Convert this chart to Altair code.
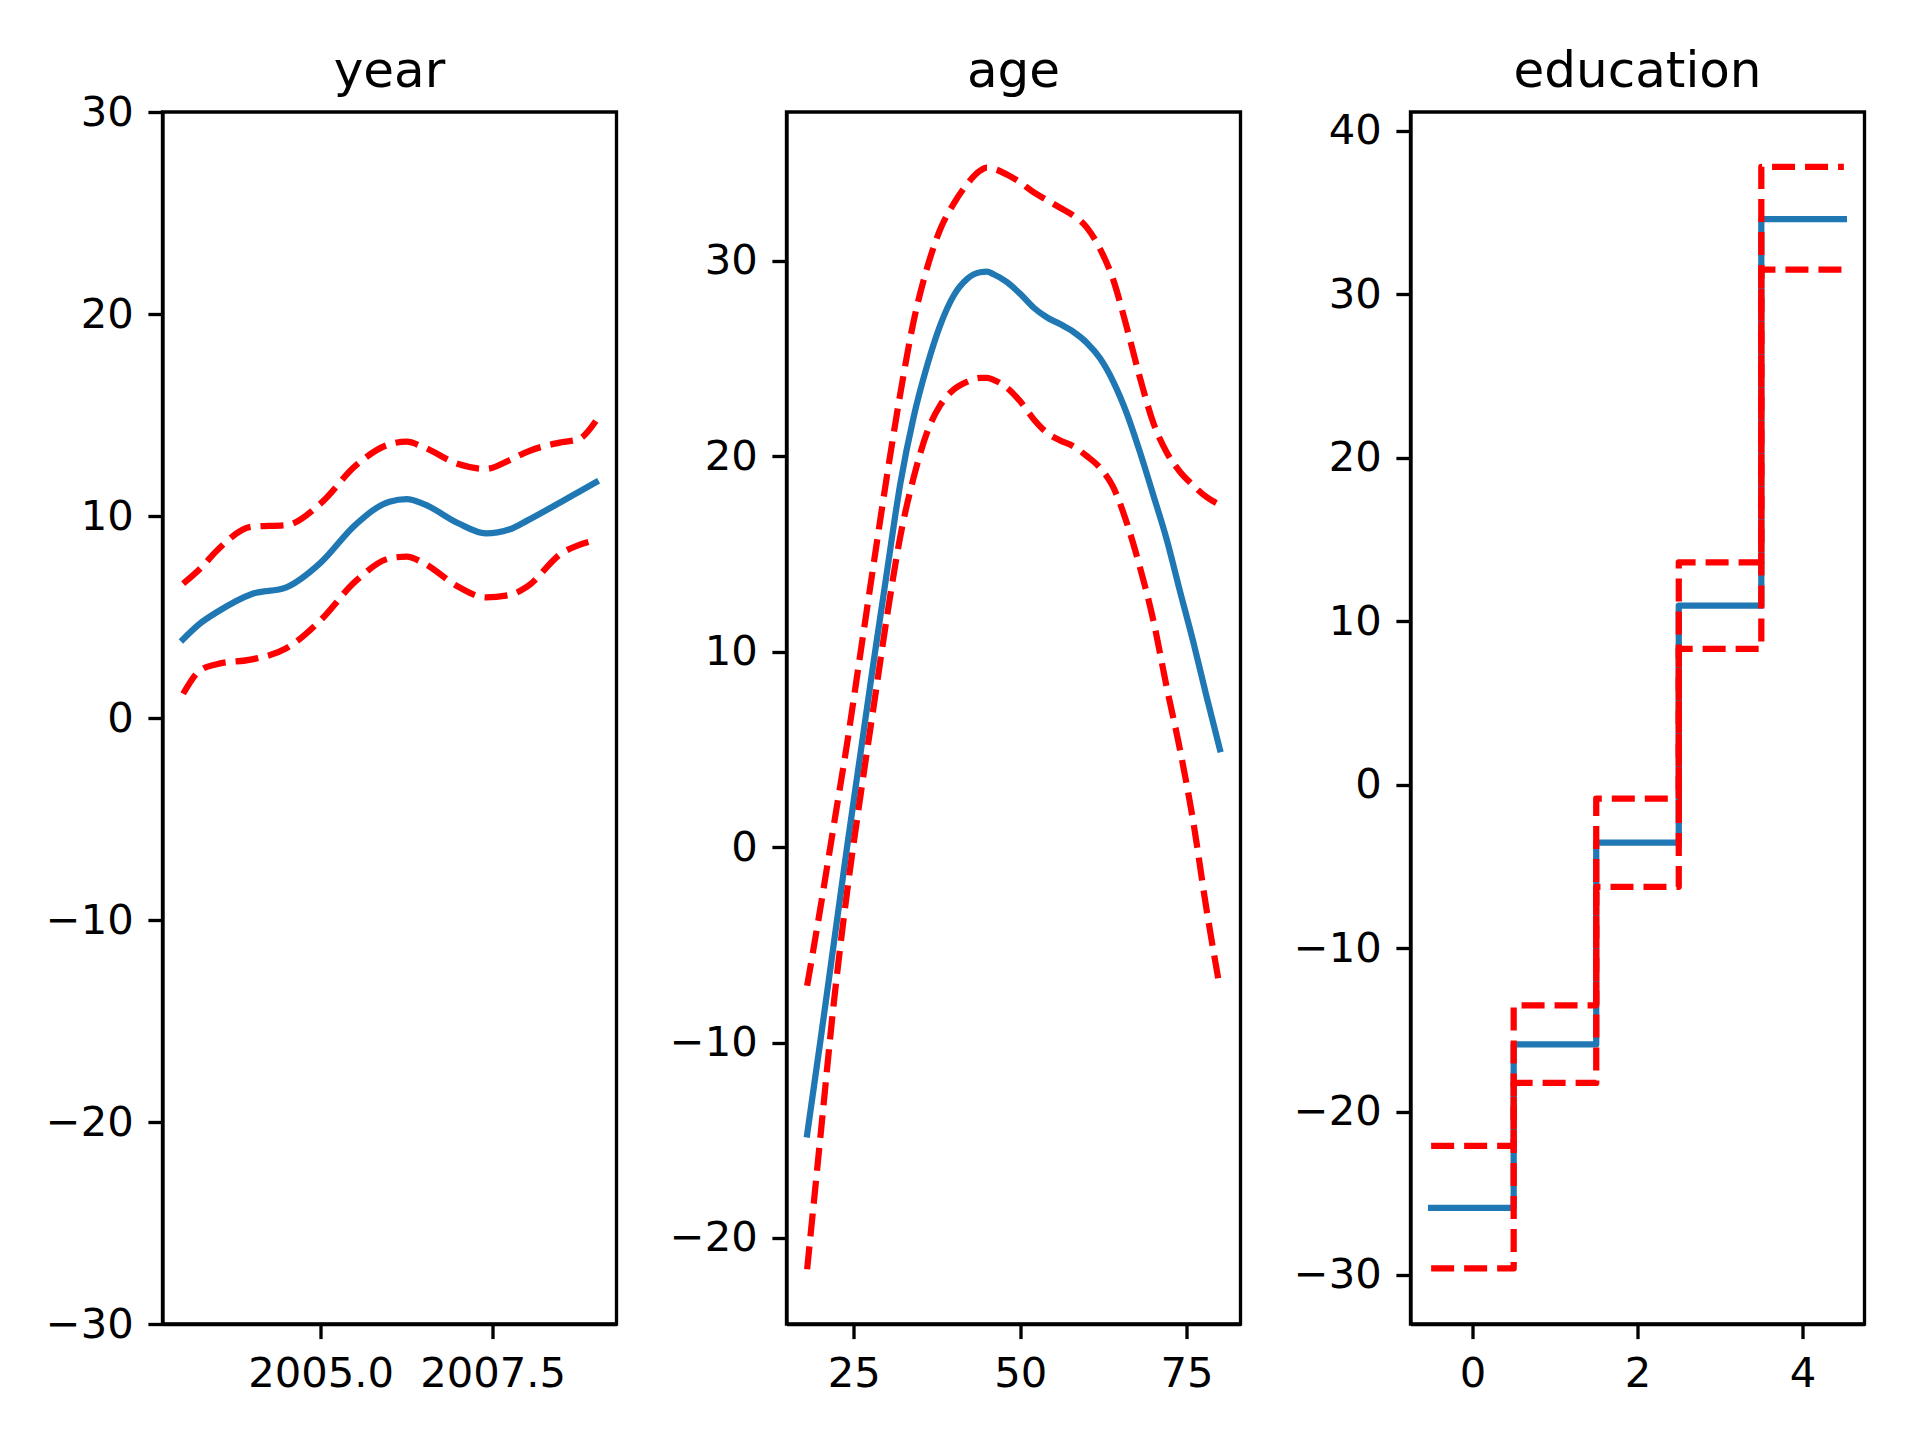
import altair as alt
import pandas as pd

BLUE = "#1f77b4"
RED = "#ff0000"
LW = 6.25
DASH = [23, 10]
PANEL_W = 454
PANEL_H = 1212

# ---- year panel ----
year_x = [2003, 2003.25, 2003.5, 2004, 2004.5, 2005, 2005.5, 2006, 2006.25,
          2006.5, 2007, 2007.4, 2007.75, 2008, 2008.5, 2008.75, 2009]
year_fit = [3.9, 4.69, 5.26, 6.14, 6.47, 7.69, 9.55, 10.71, 10.83,
            10.59, 9.64, 9.14, 9.34, 9.77, 10.71, 11.19, 11.67]
year_upper = [6.65, 7.4, 8.32, 9.47, 9.55, 10.63, 12.47, 13.55, 13.68,
              13.4, 12.57, 12.33, 12.77, 13.18, 13.65, 13.8, 14.7]
year_lower = [1.2, 2.37, 2.67, 2.9, 3.45, 4.85, 6.75, 7.9, 7.99,
              7.66, 6.5, 5.97, 6.09, 6.5, 8.15, 8.56, 8.8]

# ---- age panel ----
age_x = [18, 20, 22, 24, 26, 28, 30, 32, 34, 36, 38, 40, 42, 44, 45, 46, 48,
         50, 52, 54, 56, 58, 60, 62, 64, 66, 68, 70, 72, 74, 76, 78, 80]
age_fit = [-14.7, -9.9, -4.95, 0.0, 4.75, 9.5, 14.1, 18.6, 22.0, 24.6, 26.7,
           28.2, 29.05, 29.4, 29.43, 29.3, 28.9, 28.3, 27.6, 27.1, 26.75,
           26.35, 25.8, 25.0, 23.8, 22.2, 20.2, 18.0, 15.75, 13.1, 10.5, 7.7, 5.0]
age_upper = [-7.1, -3.1, 1.1, 5.3, 9.9, 14.5, 19.0, 23.2, 26.9, 29.6, 31.6,
             32.9, 33.9, 34.6, 34.75, 34.7, 34.4, 34.0, 33.5, 33.1, 32.7,
             32.3, 31.7, 30.6, 29.0, 26.6, 24.0, 21.7, 20.2, 19.2, 18.5, 17.9, 17.5]
age_lower = [-21.6, -14.8, -8.0, -2.3, 2.6, 7.2, 11.8, 15.9, 18.9, 21.2, 22.6,
             23.4, 23.8, 24.0, 24.0, 23.9, 23.5, 22.8, 21.9, 21.2, 20.8,
             20.5, 20.0, 19.4, 18.4, 16.6, 14.3, 11.6, 8.2, 5.0, 1.3, -3.2, -7.2]

# ---- education panel ----
edu_cat = [0, 1, 2, 3, 4]
edu_fit = [-25.9, -15.9, -3.55, 10.95, 34.6]
edu_upper = [-22.1, -13.5, -0.85, 13.6, 37.8]
edu_lower = [-29.6, -18.25, -6.25, 8.3, 31.5]


def long_df(xs, fit, up, lo):
    rows = []
    for name, vals in (("fit", fit), ("upper", up), ("lower", lo)):
        for xv, v in zip(xs, vals):
            rows.append({"x": xv, "value": v, "series": name})
    return pd.DataFrame(rows)


def step_df(cats, fit, up, lo):
    edges = [c - 0.5 for c in cats] + [cats[-1] + 0.5]
    return long_df(edges, fit + [fit[-1]], up + [up[-1]], lo + [lo[-1]])


def panel(df, title, xdom, xticks, xfmt, ydom, yticks, interp):
    x = alt.X("x:Q", scale=alt.Scale(domain=xdom, nice=False, zero=False),
              axis=alt.Axis(values=xticks, format=xfmt, title=None))
    y = alt.Y("value:Q", scale=alt.Scale(domain=ydom, nice=False, zero=False),
              axis=alt.Axis(values=yticks, format="d", title=None))
    base = alt.Chart(df)
    fit = base.transform_filter(alt.datum.series == "fit").mark_line(
        color=BLUE, strokeWidth=LW, interpolate=interp,
        strokeCap="square", strokeJoin="round").encode(x=x, y=y)
    band = base.transform_filter(alt.datum.series != "fit").mark_line(
        color=RED, strokeWidth=LW, strokeDash=DASH, interpolate=interp,
        strokeCap="butt", strokeJoin="round").encode(
        x=x, y=y, detail="series:N")
    head = alt.Chart(pd.DataFrame({"t": [title]})).mark_text(
        font="DejaVu Sans", fontSize=50, color="black",
        align="center", baseline="alphabetic").encode(
        text="t:N", x=alt.value(PANEL_W / 2), y=alt.value(-25))
    return alt.layer(fit, band, head).properties(width=PANEL_W, height=PANEL_H)


p1 = panel(long_df(year_x, year_fit, year_upper, year_lower), "year",
           [2002.7, 2009.3], [2005, 2007.5], ".1f",
           [-30, 30], [-30, -20, -10, 0, 10, 20, 30], "monotone")
p2 = panel(long_df(age_x, age_fit, age_upper, age_lower), "age",
           [14.9, 83.1], [25, 50, 75], "d",
           [-24.4, 37.6], [-20, -10, 0, 10, 20, 30], "monotone")
p3 = panel(step_df(edu_cat, edu_fit, edu_upper, edu_lower), "education",
           [-0.75, 4.75], [0, 2, 4], "d",
           [-33.0, 41.15], [-30, -20, -10, 0, 10, 20, 30, 40], "step-after")

chart = alt.hconcat(p1, p2, p3, spacing=170, bounds="flush").properties(
    padding={"left": 35.5, "top": 37, "right": 5, "bottom": 5},
    background="white",
).configure_axis(
    labelFont="DejaVu Sans", labelFontSize=41.7, labelColor="black",
    tickColor="black", domainColor="black", tickSize=14.6, tickWidth=3.33,
    domainWidth=3.33, labelPadding=14.6, grid=False, labelFlush=False,
    labelOverlap=False,
).configure_view(
    stroke="black", strokeWidth=3.33,
)

chart.save("out.html", embed_options={"renderer": "svg", "actions": False})
